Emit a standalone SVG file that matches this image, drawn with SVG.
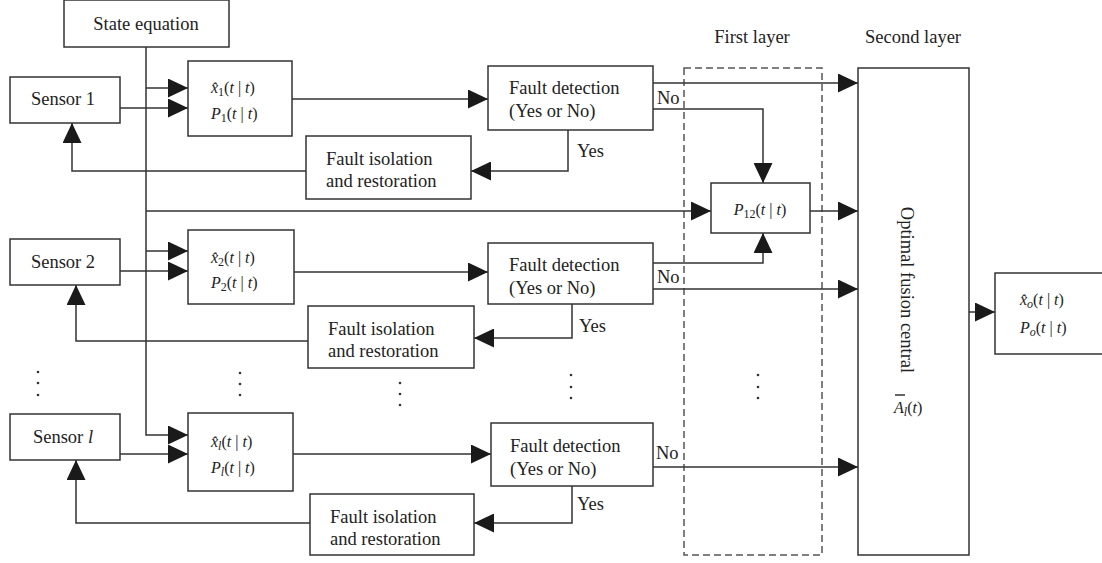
<svg xmlns="http://www.w3.org/2000/svg" width="1102" height="563" viewBox="0 0 1102 563">
<style>
.box{fill:#fff;stroke:#333;stroke-width:1.5}
.ln{fill:none;stroke:#333;stroke-width:1.5}
.arr{fill:none;stroke:#333;stroke-width:1.5;marker-end:url(#ah)}
.dash{fill:none;stroke:#555;stroke-width:1.5;stroke-dasharray:7,4}
text{font-family:"Liberation Serif","Times New Roman",serif;font-size:18.5px;fill:#222}
.m{font-size:16px}
.i{font-style:italic}
.s{font-size:12px}
.dot{fill:#333}
</style>
<defs>
<marker id="ah" viewBox="0 0 20 19" refX="20" refY="9.5" markerWidth="20" markerHeight="19" markerUnits="userSpaceOnUse" orient="auto">
<path d="M0,0 L20,9.5 L0,19 z" fill="#1a1a1a"/>
</marker>
</defs>

<g id="layers">
<rect class="dash" x="684" y="68" width="138" height="487"/>
<text x="752" y="43" text-anchor="middle">First layer</text>
<text x="913" y="43" text-anchor="middle">Second layer</text>
</g>

<g id="connectors">
<path class="arr" d="M146,47 V435 H188"/>
<path class="arr" d="M146,88 H188"/>
<path class="arr" d="M146,211 H711"/>
<path class="arr" d="M146,251 H188"/>
<path class="arr" d="M120,108 H188"/>
<path class="arr" d="M120,271 H188"/>
<path class="arr" d="M120,454 H188"/>
<path class="arr" d="M292,99 H488"/>
<path class="arr" d="M294,272 H488"/>
<path class="arr" d="M293,454 H491"/>
<path class="arr" d="M568,130 V171 H471"/>
<path class="arr" d="M572,304 V338 H474"/>
<path class="arr" d="M572,486 V523 H474"/>
<path class="arr" d="M306,171 H72 V123"/>
<path class="arr" d="M308,341 H76 V285"/>
<path class="arr" d="M310,523 H76 V460"/>
<path class="arr" d="M653,83 H858"/>
<path class="arr" d="M653,109 H763 V183"/>
<path class="arr" d="M810,211 H858"/>
<path class="arr" d="M653,263 H763 V233"/>
<path class="arr" d="M653,289 H858"/>
<path class="arr" d="M653,467 H858"/>
<path class="arr" d="M969,312 H995"/>
<text x="657" y="104">No</text>
<text x="657" y="283">No</text>
<text x="656" y="459">No</text>
<text x="577" y="157">Yes</text>
<text x="579" y="332">Yes</text>
<text x="577" y="510">Yes</text>
</g>

<g id="state-equation">
<rect class="box" x="64" y="0" width="165" height="47"/>
<text x="146" y="30" text-anchor="middle">State equation</text>
</g>

<g id="sensor-1">
<rect class="box" x="10" y="77" width="110" height="46"/>
<text x="63" y="105" text-anchor="middle">Sensor 1</text>
</g>
<g id="sensor-2">
<rect class="box" x="10" y="239" width="110" height="46"/>
<text x="63" y="268" text-anchor="middle">Sensor 2</text>
</g>
<g id="sensor-l">
<rect class="box" x="10" y="414" width="110" height="46"/>
<text x="63" y="443" text-anchor="middle">Sensor <tspan class="i">l</tspan></text>
</g>

<g id="estimator-1">
<rect class="box" x="188" y="61" width="104" height="75"/>
<text class="m" x="211" y="93"><tspan class="i">x̂</tspan><tspan class="s" dy="3">1</tspan><tspan dy="-3">(</tspan><tspan class="i">t</tspan> | <tspan class="i">t</tspan>)</text>
<text class="m" x="211" y="119"><tspan class="i">P</tspan><tspan class="s" dy="3">1</tspan><tspan dy="-3">(</tspan><tspan class="i">t</tspan> | <tspan class="i">t</tspan>)</text>
</g>
<g id="estimator-2">
<rect class="box" x="188" y="230" width="106" height="74"/>
<text class="m" x="211" y="263"><tspan class="i">x̂</tspan><tspan class="s" dy="3">2</tspan><tspan dy="-3">(</tspan><tspan class="i">t</tspan> | <tspan class="i">t</tspan>)</text>
<text class="m" x="211" y="288"><tspan class="i">P</tspan><tspan class="s" dy="3">2</tspan><tspan dy="-3">(</tspan><tspan class="i">t</tspan> | <tspan class="i">t</tspan>)</text>
</g>
<g id="estimator-l">
<rect class="box" x="188" y="413" width="105" height="78"/>
<text class="m" x="211" y="447"><tspan class="i">x̂</tspan><tspan class="s i" dy="3">l</tspan><tspan dy="-3">(</tspan><tspan class="i">t</tspan> | <tspan class="i">t</tspan>)</text>
<text class="m" x="211" y="473"><tspan class="i">P</tspan><tspan class="s i" dy="3">l</tspan><tspan dy="-3">(</tspan><tspan class="i">t</tspan> | <tspan class="i">t</tspan>)</text>
</g>

<g id="fault-detection-1">
<rect class="box" x="488" y="66" width="165" height="64"/>
<text x="509" y="94">Fault detection</text>
<text x="509" y="117">(Yes or No)</text>
</g>
<g id="fault-detection-2">
<rect class="box" x="488" y="243" width="165" height="61"/>
<text x="509" y="271">Fault detection</text>
<text x="509" y="294">(Yes or No)</text>
</g>
<g id="fault-detection-l">
<rect class="box" x="491" y="423" width="162" height="63"/>
<text x="510" y="452">Fault detection</text>
<text x="510" y="475">(Yes or No)</text>
</g>

<g id="fault-isolation-1">
<rect class="box" x="306" y="136" width="165" height="63"/>
<text x="326" y="165">Fault isolation</text>
<text x="326" y="187">and restoration</text>
</g>
<g id="fault-isolation-2">
<rect class="box" x="308" y="306" width="166" height="62"/>
<text x="328" y="335">Fault isolation</text>
<text x="328" y="357">and restoration</text>
</g>
<g id="fault-isolation-l">
<rect class="box" x="310" y="494" width="164" height="61"/>
<text x="330" y="523">Fault isolation</text>
<text x="330" y="545">and restoration</text>
</g>

<g id="p12">
<rect class="box" x="711" y="183" width="99" height="50"/>
<text class="m" x="760" y="215" text-anchor="middle"><tspan class="i">P</tspan><tspan class="s" dy="3">12</tspan><tspan dy="-3">(</tspan><tspan class="i">t</tspan> | <tspan class="i">t</tspan>)</text>
</g>

<g id="fusion-central">
<rect class="box" x="858" y="68" width="111" height="487"/>
<text transform="translate(901,290) rotate(90)" text-anchor="middle">Optimal fusion central</text>
<text class="m" x="894" y="413"><tspan class="i">A</tspan><tspan class="s i" dy="3">l</tspan><tspan dy="-3">(</tspan><tspan class="i">t</tspan>)</text>
<path class="ln" d="M895,395 H905" stroke-width="1.2"/>
</g>

<g id="output">
<rect class="box" x="995" y="273" width="200" height="81"/>
<text class="m" x="1020" y="305"><tspan class="i">x̂</tspan><tspan class="s i" dy="3">o</tspan><tspan dy="-3">(</tspan><tspan class="i">t</tspan> | <tspan class="i">t</tspan>)</text>
<text class="m" x="1020" y="333"><tspan class="i">P</tspan><tspan class="s i" dy="3">o</tspan><tspan dy="-3">(</tspan><tspan class="i">t</tspan> | <tspan class="i">t</tspan>)</text>
</g>

<g id="ellipses">
<circle class="dot" cx="38" cy="372" r="1.3"/><circle class="dot" cx="38" cy="383" r="1.3"/><circle class="dot" cx="38" cy="395" r="1.3"/>
<circle class="dot" cx="240" cy="373" r="1.3"/><circle class="dot" cx="240" cy="384" r="1.3"/><circle class="dot" cx="240" cy="395" r="1.3"/>
<circle class="dot" cx="400" cy="383" r="1.3"/><circle class="dot" cx="400" cy="394" r="1.3"/><circle class="dot" cx="400" cy="405" r="1.3"/>
<circle class="dot" cx="571" cy="375" r="1.3"/><circle class="dot" cx="571" cy="387" r="1.3"/><circle class="dot" cx="571" cy="398" r="1.3"/>
<circle class="dot" cx="758" cy="375" r="1.3"/><circle class="dot" cx="758" cy="387" r="1.3"/><circle class="dot" cx="758" cy="398" r="1.3"/>
</g>
</svg>
